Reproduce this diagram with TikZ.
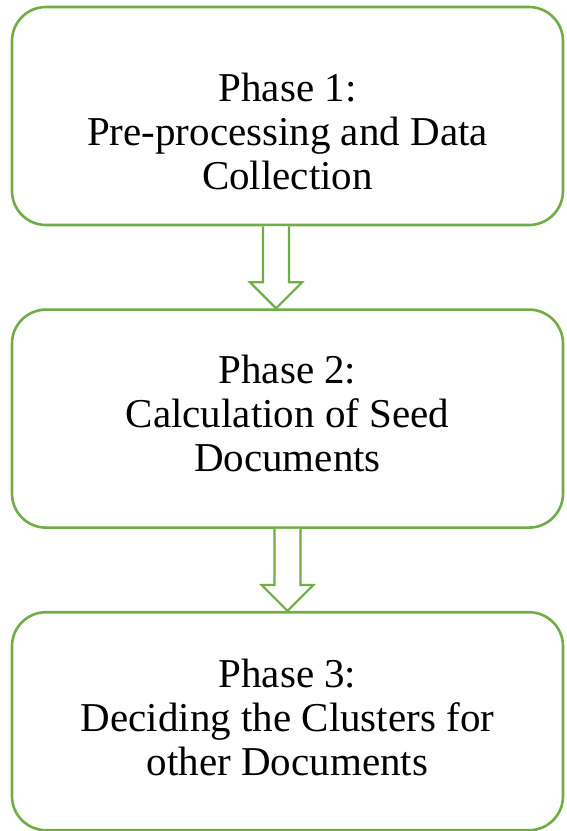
\documentclass[tikz,border=0pt]{standalone}
\usepackage{fontspec}
\setmainfont{Liberation Serif}
\usepackage {tikz}
\usetikzlibrary {positioning}
\usetikzlibrary{calc}
\definecolor{phasegreen}{RGB}{112,173,71}
\tikzset{
    phasebox/.style = {rectangle, draw=phasegreen, line width=2.6pt, rounded corners=34pt,
        minimum width=551pt, minimum height=218pt, inner sep=0pt},
    phasetext/.style = {align=center, inner sep=0pt, text=black,
        font=\fontsize{41}{44}\selectfont},
    flow/.style = {draw=phasegreen, line width=2.2pt, fill=white, line join=miter}}

\begin{document}
\begin{tikzpicture}[x=1pt, y=1pt, node distance = 82pt]
    \useasboundingbox (0,0) rectangle (566,-831);
    \node[phasebox] (P1) at (287.5,-116) {};
    \node[phasebox] (P2) [below = of P1] {};
    \node[phasebox] (P3) [below = of P2] {};
    \node[phasetext] (T1) at ([yshift=-15pt]P1.center) {Phase 1:\\Pre-processing and Data\\Collection};
    \node[phasetext] (T2) at ([yshift=5pt]P2.center) {Phase 2:\\Calculation of Seed\\Documents};
    \node[phasetext] (T3) at ([yshift=4pt]P3.center) {Phase 3:\\Deciding the Clusters for\\other Documents};
    % block arrows between the phases
    \draw[flow] ($(P1.south)+(-24.5,0)$) -- ($(P2.north)+(-24.5,26)$) -- ($(P2.north)+(-37.5,26)$)
        -- ($(P2.north)+(-11.5,0)$) -- ($(P2.north)+(14.5,26)$) -- ($(P2.north)+(1.5,26)$)
        -- ($(P1.south)+(1.5,0)$);
    \draw[flow] ($(P2.south)+(-13,0)$) -- ($(P3.north)+(-13,26)$) -- ($(P3.north)+(-26,26)$)
        -- (P3.north) -- ($(P3.north)+(26,26)$) -- ($(P3.north)+(13,26)$)
        -- ($(P2.south)+(13,0)$);
\end{tikzpicture}
\end{document}
